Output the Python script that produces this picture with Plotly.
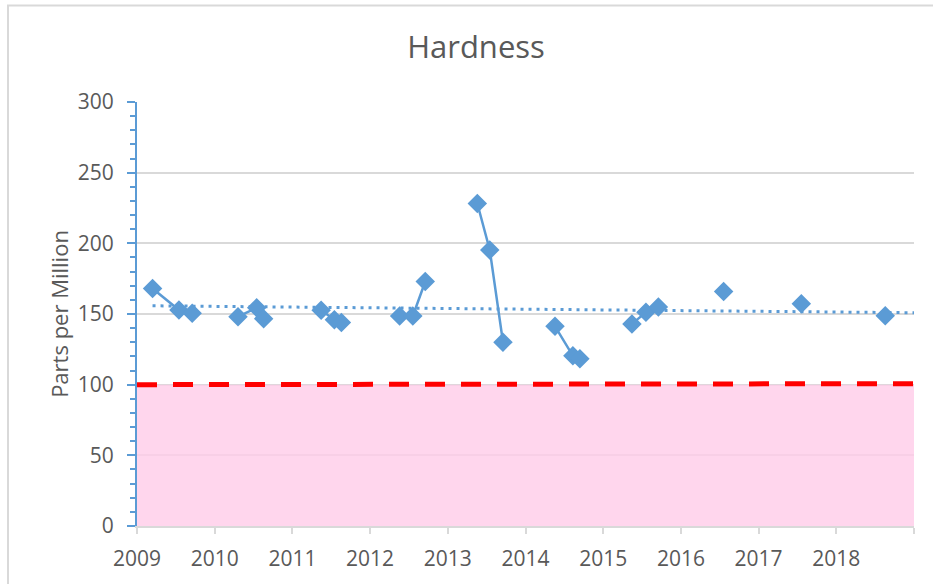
import plotly.graph_objects as go

# Hardness samples (decimal year, ppm); None marks gaps between sampling runs
dates = [2009.20, 2009.54, 2009.71, None,
         2010.30, 2010.54, 2010.63, None,
         2011.37, 2011.54, 2011.63, None,
         2012.38, 2012.55, 2012.71, None,
         2013.38, 2013.54, 2013.71, None,
         2014.38, 2014.61, 2014.70, None,
         2015.37, 2015.55, 2015.71, None,
         2016.55, None,
         2017.55, None,
         2018.63]
hardness = [168.1, 152.8, 150.5, None,
            148.1, 154.4, 146.7, None,
            152.6, 146.0, 143.9, None,
            148.6, 148.6, 173.0, None,
            228.2, 195.3, 130.1, None,
            141.3, 120.4, 118.3, None,
            143.0, 151.2, 154.9, None,
            166.0, None,
            157.3, None,
            148.8]

trend_x = [2009.20, 2019.0]
trend_y = [155.8, 150.9]

limit_x = [2009.0, 2019.0]
limit_y = [100.0, 100.7]
zone_y = [100.0, 100.0]

year_ticks = list(range(2009, 2020))
year_labels = [str(y) for y in range(2009, 2019)] + [""]
ppm_ticks = [0, 50, 100, 150, 200, 250, 300]

BLUE = "#5B9BD5"
GRAY_TEXT = "#595959"
FONT = "Open Sans, sans-serif"

W, H = 933, 584
ML, MR, MT, MB = 137, 19, 102, 56
PW = W - ML - MR
PH = H - MT - MB

fig = go.Figure()

fig.add_trace(go.Scatter(
    x=limit_x, y=zone_y, mode="lines", line=dict(width=0),
    fill="tozeroy", fillcolor="rgba(255,204,232,0.8)",
    hoverinfo="skip", showlegend=False))

fig.add_trace(go.Scatter(
    x=limit_x, y=limit_y, mode="lines",
    line=dict(color="#FF0000", width=5, dash="20px,16px"),
    showlegend=False))

fig.add_trace(go.Scatter(
    x=trend_x, y=trend_y, mode="lines",
    line=dict(color=BLUE, width=3, dash="3px,5px"),
    showlegend=False))

fig.add_trace(go.Scatter(
    x=dates, y=hardness, mode="lines+markers",
    line=dict(color=BLUE, width=2.5),
    marker=dict(symbol="diamond", size=15, color=BLUE),
    connectgaps=False, showlegend=False))

fig.update_layout(
    width=W, height=H, autosize=False,
    margin=dict(l=ML, r=MR, t=MT, b=MB),
    paper_bgcolor="white", plot_bgcolor="white",
    font=dict(family=FONT, color=GRAY_TEXT, size=21),
    title=dict(text="Hardness", x=476 / W, xanchor="center", xref="container",
               y=1 - 47.5 / H, yanchor="middle", yref="container",
               font=dict(size=31, color=GRAY_TEXT, family=FONT)),
    xaxis=dict(
        range=[2009, 2019], tickmode="array", tickvals=year_ticks, ticktext=year_labels,
        showgrid=False, zeroline=False,
        showline=True, linecolor="#D9D9D9", linewidth=1.5,
        ticks="outside", ticklen=6, tickcolor="#D9D9D9", tickwidth=1.5,
        ticklabelstandoff=7,
        tickfont=dict(size=21, color=GRAY_TEXT)),
    yaxis=dict(
        range=[0, 300], tickmode="array", tickvals=ppm_ticks,
        showgrid=True, gridcolor="#D9D9D9", gridwidth=1.5, zeroline=False,
        showline=True, linecolor=BLUE, linewidth=2,
        ticks="outside", ticklen=8, tickcolor=BLUE, tickwidth=2,
        minor=dict(dtick=10, ticks="outside", ticklen=5, tickcolor=BLUE, tickwidth=2, showgrid=False),
        ticklabelstandoff=9,
        tickfont=dict(size=21, color=GRAY_TEXT),
        title=dict(text="Parts per Million", standoff=3,
                   font=dict(size=22, color=GRAY_TEXT))),
    shapes=[dict(type="rect", xref="paper", yref="paper",
                 x0=(8 - ML) / PW, x1=1.2, y0=-0.3, y1=(PH + MT - 5) / PH,
                 line=dict(color="#D9D9D9", width=2), fillcolor="rgba(0,0,0,0)",
                 layer="below")],
)

fig.write_html(
    "out.html",
    config={"displayModeBar": False},
    post_script="document.body.style.margin='0';document.body.style.overflow='hidden';",
)
